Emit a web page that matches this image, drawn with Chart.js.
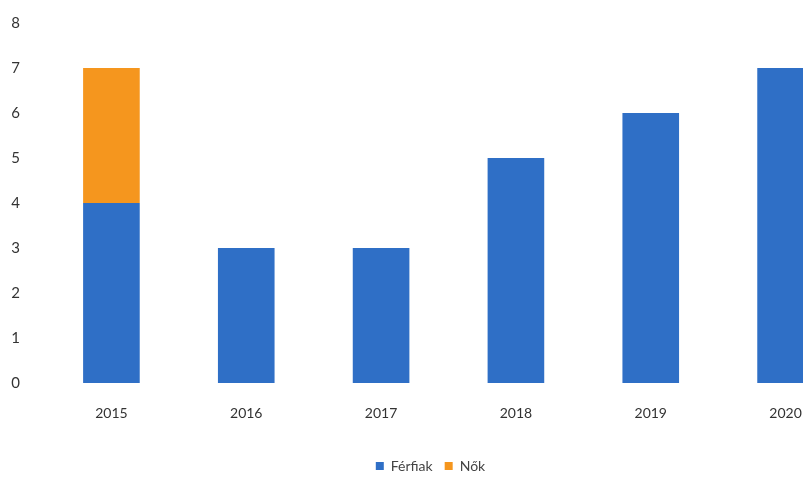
<!DOCTYPE html>
<html>
<head>
<meta charset="utf-8">
<script src="https://cdn.jsdelivr.net/npm/chart.js@4"></script>
<style>
  html, body { margin: 0; padding: 0; background: #fff; overflow: hidden; }
  #wrap { width: 855px; height: 501px; margin-top: -10px; }
</style>
</head>
<body>
<div id="wrap"><canvas id="chart" width="855" height="501"></canvas></div>
<script>
// data
const years = ["2015", "2016", "2017", "2018", "2019", "2020"];
const ferfiak = [4, 3, 3, 5, 6, 7];
const nok = [3, null, null, null, null, null];
const yTicks = [0, 1, 2, 3, 4, 5, 6, 7, 8];

const ctx = document.getElementById("chart").getContext("2d");

new Chart(ctx, {
    type: "bar",
    data: {
        labels: years,
        datasets: [
            { label: "Férfiak", data: ferfiak, backgroundColor: "#2f6fc6" },
            { label: "Nők", data: nok, backgroundColor: "#f5961e" }
        ]
    },
    options: {
        responsive: false,
        animation: false,
        layout: { padding: { left: 8, right: 2, top: 6, bottom: 8 } },
        datasets: {
            bar: { categoryPercentage: 1, barPercentage: 0.42 }
        },
        scales: {
            x: {
                stacked: true,
                grid: { display: false, drawTicks: false },
                border: { display: false },
                ticks: {
                    padding: 22,
                    color: "#333",
                    font: { family: "Lato", size: 14 }
                },
                afterFit: scale => { scale.height = 64; }
            },
            y: {
                stacked: true,
                min: 0,
                max: 8,
                grid: { display: false, drawTicks: false },
                border: { display: false },
                afterBuildTicks: scale => {
                    scale.ticks = yTicks.map(v => ({ value: v }));
                },
                afterFit: scale => { scale.width = 36; },
                ticks: {
                    padding: 24,
                    color: "#333",
                    font: { family: "Lato", size: 15 }
                }
            }
        },
        plugins: {
            legend: {
                position: "bottom",
                labels: {
                    boxWidth: 8,
                    boxHeight: 8,
                    padding: 12,
                    color: "#444",
                    font: { family: "Lato", size: 14 }
                }
            },
            tooltip: { enabled: false }
        }
    }
});
</script>
</body>
</html>
